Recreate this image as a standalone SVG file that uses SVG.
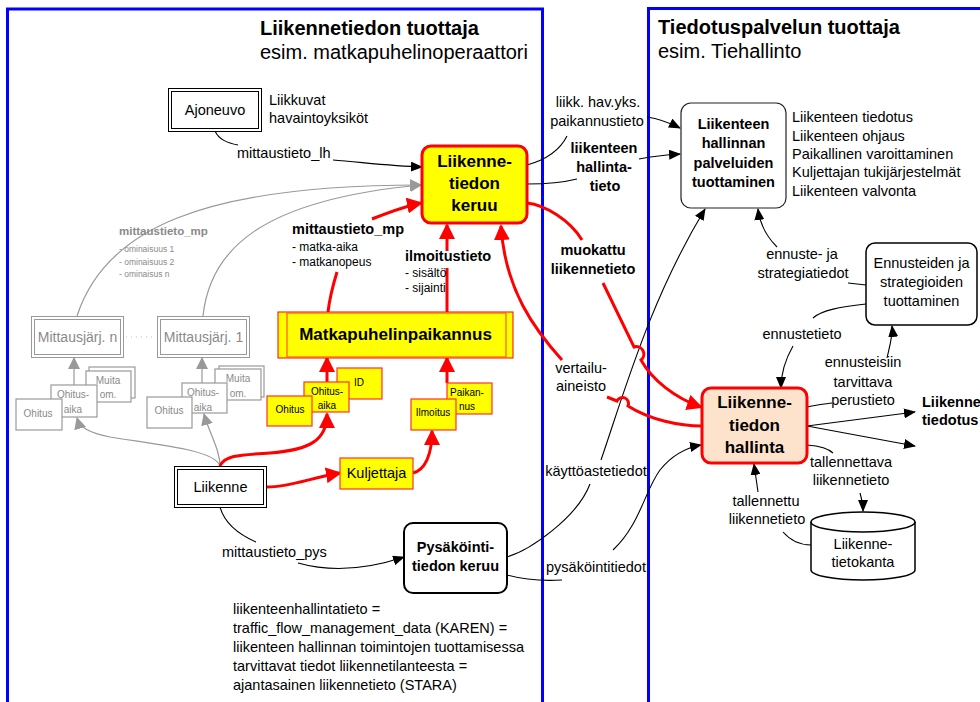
<svg xmlns="http://www.w3.org/2000/svg" width="980" height="702" viewBox="0 0 980 702">
<defs>
<style>
text{font-family:"Liberation Sans",Arial,sans-serif;fill:#000}
.f{font-size:14.5px}
.b{font-weight:bold}
.c{text-anchor:middle}
.frame{fill:none;stroke:#0000ff;stroke-width:3}
.blk{fill:none;stroke:#000;stroke-width:1.1}
.gry{fill:none;stroke:#999;stroke-width:1.2}
.red{fill:none;stroke:#ff0000;stroke-width:3}
.g{fill:#8a8a8a}
.sm{font-size:10px}
.gbox{fill:#fff;stroke:#999;stroke-width:1.2}
.ybox{fill:#ffff00;stroke:#ff3030;stroke-width:1.2}
</style>
<marker id="ab" markerWidth="12" markerHeight="10" refX="11" refY="5" orient="auto" markerUnits="userSpaceOnUse"><path d="M0,0 L12,5 L0,10 z" fill="#000"/></marker>
<marker id="ag" markerWidth="12" markerHeight="12" refX="11" refY="6" orient="auto" markerUnits="userSpaceOnUse"><path d="M0,0 L12,6 L0,12 z" fill="#999"/></marker>
<marker id="ar" markerWidth="16" markerHeight="16" refX="14" refY="8" orient="auto" markerUnits="userSpaceOnUse"><path d="M0,0 L16,8 L0,16 z" fill="#ff0000"/></marker>
</defs>
<rect x="0" y="0" width="980" height="702" fill="#fff"/>

<g id="frames">
<rect class="frame" x="7.5" y="9" width="535" height="720"/>
<rect class="frame" x="648.5" y="8.5" width="360" height="720"/>
<text class="b" x="260" y="35" style="font-size:20px">Liikennetiedon tuottaja</text>
<text x="260" y="59" style="font-size:20px">esim. matkapuhelinoperaattori</text>
<text class="b" x="658" y="34" style="font-size:20px">Tiedotuspalvelun tuottaja</text>
<text x="658" y="58" style="font-size:20px">esim. Tiehallinto</text>
</g>

<g id="connectors">
<!-- black -->
<path class="blk" d="M215,131 C219,140 228,143 238,145"/>
<path class="blk" d="M333,160 C360,162 390,166 422,167" marker-end="url(#ab)"/>
<path class="blk" d="M527,165 C545,160 560,150 567,136"/>
<path class="blk" d="M647,117 C660,119 670,123 680,128" marker-end="url(#ab)"/>
<path class="blk" d="M527,184 C550,184 565,182 577,179"/>
<path class="blk" d="M639,159 C655,156 665,155 680,154" marker-end="url(#ab)"/>
<path class="blk" d="M507,557 C530,550 577,518 590,484"/>
<path class="blk" d="M601,460 C625,390 650,300 705,209" marker-end="url(#ab)"/>
<path class="blk" d="M507,575 C525,580 545,581 562,580"/>
<path class="blk" d="M613,550 C640,525 645,490 660,470 C672,455 685,448 701,445" marker-end="url(#ab)"/>
<path class="blk" d="M220,507 C225,525 240,535 256,542"/>
<path class="blk" d="M298,563 C330,572 365,570 404,557" marker-end="url(#ab)"/>
<path class="blk" d="M866,285 L848,283"/>
<path class="blk" d="M777,247 C768,238 760,225 758,209" marker-end="url(#ab)"/>
<path class="blk" d="M866,304 C840,307 822,310 813,318"/>
<path class="blk" d="M793,346 C785,360 781,372 781,388" marker-end="url(#ab)"/>
<path class="blk" d="M807,407 C815,405 825,404 832,403"/>
<path class="blk" d="M887,358 C890,345 893,335 892,326" marker-end="url(#ab)"/>
<path class="blk" d="M807,426 L915,412" marker-end="url(#ab)"/>
<path class="blk" d="M807,426 L915,446" marker-end="url(#ab)"/>
<path class="blk" d="M807,445 C820,446 828,448 833,453"/>
<path class="blk" d="M860,493 C862,500 863,505 863,511" marker-end="url(#ab)"/>
<path class="blk" d="M758,492 L754,464" marker-end="url(#ab)"/>
<path class="blk" d="M811,545 C800,545 790,540 783,532"/>
<!-- gray -->
<path class="gry" d="M77,316 C105,230 200,185 421,185" marker-end="url(#ag)"/>
<path class="gry" d="M203,316 C210,250 260,200 421,185" marker-end="url(#ag)"/>
<path class="gry" d="M74,385 L74,358" marker-end="url(#ag)"/>
<path class="gry" d="M202,383 L202,358" marker-end="url(#ag)"/>
<path class="gry" d="M220,466 C215,450 160,445 110,437 C90,433 80,428 77,418" marker-end="url(#ag)"/>
<path class="gry" d="M220,466 C220,450 210,435 204,414" marker-end="url(#ag)"/>
<path d="M126,337 L156,337" stroke="#bbb" stroke-width="1" stroke-dasharray="1,4" fill="none"/>
<!-- red -->
<path class="red" d="M220,466 C225,455 240,455 270,453 C310,450 327,440 327,414" marker-end="url(#ar)"/>
<path class="red" d="M267,487 C290,487 310,478 340,473" marker-end="url(#ar)"/>
<path class="red" d="M413,473 C425,470 432,455 432,431" marker-end="url(#ar)"/>
<path class="red" d="M327,382 L327,358" marker-end="url(#ar)"/>
<path class="red" d="M447,383 L447,358" marker-end="url(#ar)"/>
<path class="red" d="M328,312 C330,295 333,285 337,272"/>
<path class="red" d="M372,219 C390,212 405,206 421,203" marker-end="url(#ar)"/>
<path class="red" d="M447,312 L447,268"/>
<path class="red" d="M447,251 L447,225" marker-end="url(#ar)"/>
<path class="red" d="M527,203 C545,205 570,220 582,240"/>
<path class="red" d="M603,283 L634,347 A7.5,7.5 0 0 1 641,360 C652,380 675,398 701,407" marker-end="url(#ar)"/>
<path class="red" d="M562,360 C535,330 505,290 501,226" marker-end="url(#ar)"/>
<path class="red" d="M607,397 L617,401 A6,6 0 0 1 628,406 C650,420 680,426 702,426"/>
</g>

<g id="labels">
<text class="f" x="269" y="105">Liikkuvat</text>
<text class="f" x="269" y="123">havaintoyksiköt</text>
<text class="f" x="237" y="158">mittaustieto_lh</text>
<text class="b" x="119" y="235" style="font-size:11.5px;fill:#8a8a8a">mittaustieto_mp</text>
<text x="119" y="252" style="font-size:8.5px;fill:#8a8a8a">- ominaisuus 1</text>
<text x="119" y="264.5" style="font-size:8.5px;fill:#8a8a8a">- ominaisuus 2</text>
<text x="119" y="276.5" style="font-size:8.5px;fill:#8a8a8a">- ominaisus n</text>
<text class="f b" x="292" y="234">mittaustieto_mp</text>
<text x="292" y="251" style="font-size:12px">- matka-aika</text>
<text x="292" y="266" style="font-size:12px">- matkanopeus</text>
<text class="f b" x="405" y="261">ilmoitustieto</text>
<text x="405" y="277" style="font-size:12px">- sisältö</text>
<text x="405" y="292" style="font-size:12px">- sijainti</text>
<text class="f c" x="598" y="107">liikk. hav.yks.</text>
<text class="f c" x="597" y="126">paikannustieto</text>
<text class="f b c" x="604" y="153">liikenteen</text>
<text class="f b c" x="604" y="172">hallinta-</text>
<text class="f b c" x="605" y="191">tieto</text>
<text class="f b c" x="593" y="255">muokattu</text>
<text class="f b c" x="593" y="274">liikennetieto</text>
<text class="f c" x="581" y="373">vertailu-</text>
<text class="f c" x="581" y="391">aineisto</text>
<text class="f c" x="596" y="476">käyttöastetiedot</text>
<text class="f c" x="596" y="572">pysäköintitiedot</text>
<text class="f" x="222" y="557">mittaustieto_pys</text>
<text class="f" x="792" y="122">Liikenteen tiedotus</text>
<text class="f" x="792" y="141">Liikenteen ohjaus</text>
<text class="f" x="792" y="159">Paikallinen varoittaminen</text>
<text class="f" x="792" y="177">Kuljettajan tukijärjestelmät</text>
<text class="f" x="792" y="196">Liikenteen valvonta</text>
<text class="f c" x="802" y="259">ennuste- ja</text>
<text class="f c" x="803" y="278">strategiatiedot</text>
<text class="f c" x="802" y="339">ennustetieto</text>
<text class="f c" x="863" y="367">ennusteisiin</text>
<text class="f c" x="863" y="387">tarvittava</text>
<text class="f c" x="863" y="405">perustieto</text>
<text class="f b" x="922" y="407">Liikenne</text>
<text class="f b" x="922" y="425">tiedotus</text>
<text class="f c" x="851" y="467">tallennettava</text>
<text class="f c" x="851" y="485">liikennetieto</text>
<text class="f c" x="766" y="506">tallennettu</text>
<text class="f c" x="767" y="524">liikennetieto</text>
<text class="f" x="233" y="614">liikenteenhallintatieto =</text>
<text class="f" x="233" y="633">traffic_flow_management_data (KAREN) =</text>
<text class="f" x="233" y="652">liikenteen hallinnan toimintojen tuottamisessa</text>
<text class="f" x="233" y="671">tarvittavat tiedot liikennetilanteesta =</text>
<text class="f" x="233" y="690">ajantasainen liikennetieto (STARA)</text>
</g>

<g id="ajoneuvo">
<rect x="168.5" y="88.5" width="93" height="43" fill="#fff" stroke="#000"/>
<rect x="171.5" y="91.5" width="87" height="37" fill="none" stroke="#000"/>
<text class="f c" x="215" y="115">Ajoneuvo</text>
</g>

<g id="keruu">
<rect x="422" y="146" width="105" height="77" rx="9" fill="#ffff00" stroke="#ff0000" stroke-width="3"/>
<text class="b c" x="474.5" y="167" style="font-size:17px">Liikenne-</text>
<text class="b c" x="474.5" y="189" style="font-size:17px">tiedon</text>
<text class="b c" x="474.5" y="211" style="font-size:17px">keruu</text>
</g>

<g id="palvelut">
<rect x="681" y="103" width="105" height="105" rx="10" fill="#fff" stroke="#222" stroke-width="1.2"/>
<text class="f b c" x="733.5" y="129">Liikenteen</text>
<text class="f b c" x="733.5" y="148">hallinnan</text>
<text class="f b c" x="733.5" y="168">palveluiden</text>
<text class="f b c" x="733.5" y="187">tuottaminen</text>
</g>

<g id="ennusteet">
<rect x="866" y="243" width="111" height="82" rx="9" fill="#fff" stroke="#000" stroke-width="1.5"/>
<text class="f c" x="921.5" y="268">Ennusteiden ja</text>
<text class="f c" x="921.5" y="287">strategioiden</text>
<text class="f c" x="921.5" y="306">tuottaminen</text>
</g>

<g id="hallinta">
<rect x="702" y="388" width="105" height="75" rx="9" fill="#fde3cc" stroke="#ff0000" stroke-width="3"/>
<text class="b c" x="754.5" y="408" style="font-size:17px">Liikenne-</text>
<text class="b c" x="754.5" y="431" style="font-size:17px">tiedon</text>
<text class="b c" x="754.5" y="453" style="font-size:17px">hallinta</text>
</g>

<g id="tietokanta">
<path d="M811,522 L811,570 A52,10 0 0 0 915,570 L915,522" fill="#fff" stroke="#000" stroke-width="1.5"/>
<ellipse cx="863" cy="522" rx="52" ry="10" fill="#fff" stroke="#000" stroke-width="1.5"/>
<text class="f c" x="863" y="549">Liikenne-</text>
<text class="f c" x="863" y="567">tietokanta</text>
</g>

<g id="pysakointi">
<rect x="404" y="523" width="103" height="70" rx="9" fill="#fff" stroke="#000" stroke-width="2"/>
<text class="f b c" x="455.5" y="552">Pysäköinti-</text>
<text class="f b c" x="455.5" y="571">tiedon keruu</text>
</g>

<g id="liikenne">
<rect x="174.5" y="466.5" width="92" height="41" fill="#fff" stroke="#000"/>
<rect x="177.5" y="469.5" width="86" height="35" fill="none" stroke="#000"/>
<text class="f c" x="220.5" y="492">Liikenne</text>
</g>

<g id="kuljettaja">
<rect class="ybox" x="340" y="458" width="73" height="31"/>
<text class="f c" x="376.5" y="478">Kuljettaja</text>
</g>

<g id="matkapuhelinpaikannus">
<rect x="278" y="312" width="235" height="46" fill="#ffff00" stroke="#ff0000" stroke-width="1"/>
<rect x="287" y="313" width="219" height="44" fill="none" stroke="#ff5a20" stroke-width="1.2"/>
<text class="b c" x="395.5" y="340" style="font-size:17px">Matkapuhelinpaikannus</text>
</g>

<g id="mp-ohitukset">
<rect class="ybox" x="337" y="368" width="45" height="31"/>
<text class="sm c" x="359" y="386">ID</text>
<rect class="ybox" x="304" y="382" width="45" height="30"/>
<text class="sm c" x="327" y="395">Ohitus-</text>
<text class="sm c" x="327" y="409">aika</text>
<rect class="ybox" x="267" y="396" width="45" height="30"/>
<text class="sm c" x="290" y="413">Ohitus</text>
</g>

<g id="mp-ilmoitukset">
<rect class="ybox" x="447" y="383" width="45" height="31"/>
<text class="sm c" x="467" y="396">Paikan-</text>
<text class="sm c" x="467" y="410">nus</text>
<rect class="ybox" x="411" y="399" width="45" height="31"/>
<text class="sm c" x="433" y="416">Ilmoitus</text>
</g>

<g id="mittausjarj-n">
<rect x="31.5" y="316.5" width="92" height="41" fill="#fff" stroke="#999"/>
<rect x="34.5" y="319.5" width="86" height="35" fill="none" stroke="#999"/>
<text class="g c" x="77.5" y="342" style="font-size:14px">Mittausjärj. n</text>
<rect class="gbox" x="89" y="367" width="46" height="31"/>
<rect class="gbox" x="86" y="371" width="45" height="31"/>
<text class="g sm c" x="108" y="384">Muita</text>
<text class="g sm c" x="108" y="398">om.</text>
<rect class="gbox" x="51" y="385" width="46" height="32"/>
<text class="g sm c" x="73" y="398">Ohitus-</text>
<text class="g sm c" x="73" y="413">aika</text>
<rect class="gbox" x="16" y="399" width="46" height="31"/>
<text class="g sm c" x="38" y="416.5">Ohitus</text>
</g>

<g id="mittausjarj-1">
<rect x="157.5" y="316.5" width="92" height="41" fill="#fff" stroke="#999"/>
<rect x="160.5" y="319.5" width="86" height="35" fill="none" stroke="#999"/>
<text class="g c" x="203.5" y="342" style="font-size:14px">Mittausjärj. 1</text>
<rect class="gbox" x="219" y="366" width="45" height="31"/>
<rect class="gbox" x="215" y="369" width="46" height="31"/>
<text class="g sm c" x="238" y="382">Muita</text>
<text class="g sm c" x="238" y="396.5">om.</text>
<rect class="gbox" x="182" y="383" width="45" height="30"/>
<text class="g sm c" x="203" y="396">Ohitus-</text>
<text class="g sm c" x="203" y="410.5">aika</text>
<rect class="gbox" x="147" y="397" width="45" height="31"/>
<text class="g sm c" x="169" y="414">Ohitus</text>
</g>
</svg>
